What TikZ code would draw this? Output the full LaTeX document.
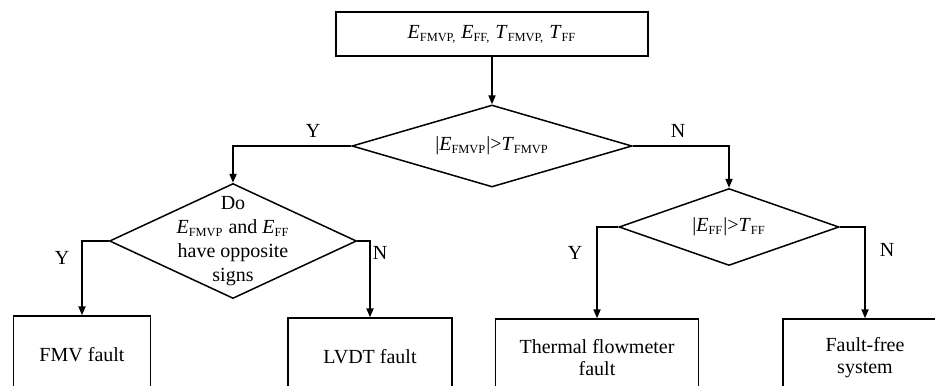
\documentclass[tikz,border=0pt]{standalone}
\usepackage{amsmath}
\usepackage{fontspec}
\setmainfont{Liberation Serif}
\usepackage{tikz}
\usetikzlibrary{arrows.meta,shapes.geometric,positioning}
\newcommand{\Evar}[1]{\textit{E}$_{\text{\fontsize{6.2}{7}\selectfont #1}}$}
\newcommand{\Tvar}[1]{\textit{T}$_{\text{\fontsize{6.2}{7}\selectfont #1}}$}
\tikzset{
    % process and result boxes
    procbox/.style={draw, line width=0.75pt, inner sep=0pt, align=center,
        font=\fontsize{10}{11}\selectfont},
    % decision diamonds, the text sits in a centred label
    decision/.style={diamond, draw, line width=0.75pt, inner sep=0pt},
    flow/.style={-{Triangle[length=4.5pt,width=3.6pt]}, line width=0.75pt},
    yn/.style={font=\fontsize{10}{11}\selectfont},
}

\begin{document}
\begin{tikzpicture}[x=0.5pt,y=-0.5pt]
  \useasboundingbox (0,0) rectangle (935,385);
  \clip (0,0) rectangle (935,385);
  % input
  \node[procbox,minimum width=156pt,minimum height=22pt] (inp) at (492,34)
       {\Evar{FMVP,} \Evar{FF,} \Tvar{FMVP,} \Tvar{FF}};

  % decisions
  \node[decision,minimum width=140pt,minimum height=41pt,
        label={center:|\Evar{FMVP}|>\Tvar{FMVP}}] (dec1) at (492,146) {};
  \node[decision,minimum width=123.5pt,minimum height=57.5pt,
        label={[align=center]center:Do\\\Evar{FMVP} and \Evar{FF}\\have opposite\\signs}]
        (dec2) at (233,241) {};
  \node[decision,minimum width=110pt,minimum height=38.5pt,
        label={center:|\Evar{FF}|>\Tvar{FF}}] (dec3) at (729,227) {};

  % results (cut off by the lower edge)
  \node[procbox,minimum width=68.5pt,minimum height=39pt] (fmv) at (82,355) {FMV fault};
  \node[procbox,minimum width=82pt,minimum height=39pt] (lvdt) at (370,357) {LVDT fault};
  \node[procbox,minimum width=101.5pt,minimum height=39pt] (thermal) at (597,358)
       {Thermal flowmeter\\fault};
  \node[procbox,minimum width=82pt,minimum height=39pt] (ffree) at (865,358)
       {Fault-free\\system};

  % flow lines
  \draw[flow] (inp) -- (dec1);
  \draw[flow] (dec1.west) -| (dec2.north);
  \draw[flow] (dec1.east) -| (dec3.north);
  \draw[flow] (dec2.west) -| (fmv.north);
  \draw[flow] (dec2.east) -| (lvdt.north);
  \draw[flow] (dec3.west) -| (thermal.north);
  \draw[flow] (dec3.east) -| (ffree.north);

  % branch labels
  \node[yn] (y1) at (313,131) {Y};
  \node[yn] (n1) at (678,131) {N};
  \node[yn] (y2) at (62,258) {Y};
  \node[yn] (n2) at (380,253) {N};
  \node[yn] (y3) at (575,253) {Y};
  \node[yn] (n3) at (887,250) {N};
\end{tikzpicture}
\end{document}
